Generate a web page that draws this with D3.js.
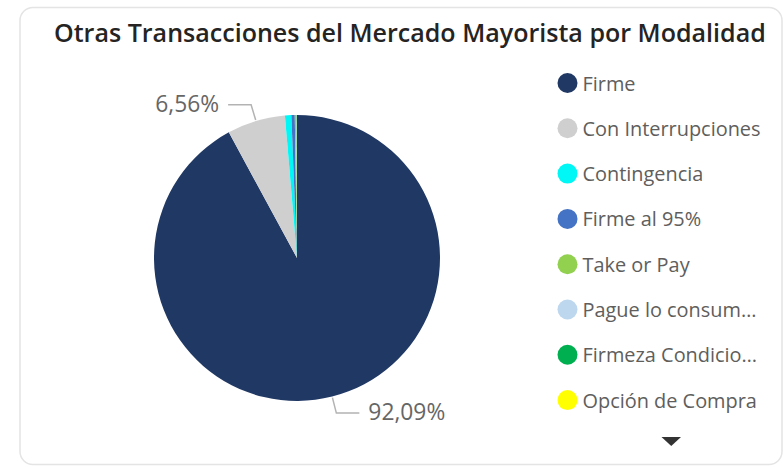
<!DOCTYPE html>
<html><head><meta charset="utf-8">
<script src="https://cdn.jsdelivr.net/npm/d3@7/dist/d3.min.js"></script>
<style>html,body{margin:0;padding:0;background:#fff;}svg{display:block;}</style>
</head><body>
<svg id="c" width="783" height="467"></svg>
<script>
const title = "Otras Transacciones del Mercado Mayorista por Modalidad";
const categories = ["Firme","Con Interrupciones","Contingencia","Firme al 95%","Take or Pay","Pague lo consumido","Firmeza Condicionada","Opción de Compra"];
const legendLabels = ["Firme","Con Interrupciones","Contingencia","Firme al 95%","Take or Pay","Pague lo consum…","Firmeza Condicio…","Opción de Compra"];
const values = [92.09, 6.56, 0.72, 0.38, 0.15, 0.06, 0.03, 0.01];
const colors = ["#203864","#d0cfd0","#00f7f5","#4472c4","#92d050","#bdd7ee","#00b050","#ffff00"];
const shownLabels = ["92,09%","6,56%"];

const svg = d3.select("#c");
const font = "'Segoe UI','Open Sans','Noto Sans',sans-serif";

// card
svg.append("rect").attr("x",20).attr("y",7.5).attr("width",762).attr("height",457)
  .attr("rx",13).attr("fill","#fff").attr("stroke","#e4e4e4").attr("stroke-width",1.5);

// title
const t = svg.append("text").attr("x",54).attr("y",42).attr("fill","#252423")
  .style("font-family",font).style("font-weight",600).style("font-size","22px").text(title);
let w = t.node().getComputedTextLength();
t.style("font-size",(22*712/w).toFixed(2)+"px");

// pie
const cx = 297, cy = 258, r = 143;
const data = categories.map((c,i)=>({cat:c,val:values[i],col:colors[i]}));
const pie = d3.pie().sort(null).value(d=>d.val);
const arcs = pie(data);
const arc = d3.arc().innerRadius(0).outerRadius(r);
const g = svg.append("g").attr("transform",`translate(${cx},${cy})`);
g.selectAll("path").data(arcs).enter().append("path").attr("d",arc).attr("fill",d=>d.data.col);

// labels for two largest slices
const labelFont = 22.8;
[0,1].forEach(i=>{
  const a = arcs[i];
  const mid = (a.startAngle+a.endAngle)/2;
  const p0 = [Math.sin(mid)*(r+1), -Math.cos(mid)*(r+1)];
  const p1 = [Math.sin(mid)*160, -Math.cos(mid)*160];
  const right = Math.sin(mid) > 0;
  const p2 = [p1[0] + (right?23:-23), p1[1]];
  g.append("polyline").attr("points",[p0,p1,p2].map(p=>p.join(",")).join(" "))
    .attr("fill","none").attr("stroke","#b3b3b3").attr("stroke-width",1.5);
  g.append("text").attr("x",p2[0]+(right?9:-9)).attr("y",p1[1]+1)
    .attr("dominant-baseline","middle").attr("text-anchor",right?"start":"end")
    .attr("fill","#666").style("font-family",font).style("font-size",labelFont+"px")
    .text(shownLabels[i]);
});

// legend
const lg = svg.append("g");
const items = lg.selectAll("g").data(legendLabels).enter().append("g")
  .attr("transform",(d,i)=>`translate(567.5,${83+i*45.3})`);
items.append("circle").attr("r",10).attr("fill",(d,i)=>colors[i]);
const lt = items.append("text").attr("x",15).attr("y",0).attr("dominant-baseline","central")
  .attr("fill","#605e5c").style("font-family",font).style("font-size","19px").text(d=>d);
const wref = lt.filter((d,i)=>i===1).node().getComputedTextLength();
lt.style("font-size",(19*178/wref).toFixed(2)+"px");

// scroll arrow
svg.append("path").attr("d","M661.5,437 L681,437 L671.25,446 Z").attr("fill","#333");
</script>
</body></html>
